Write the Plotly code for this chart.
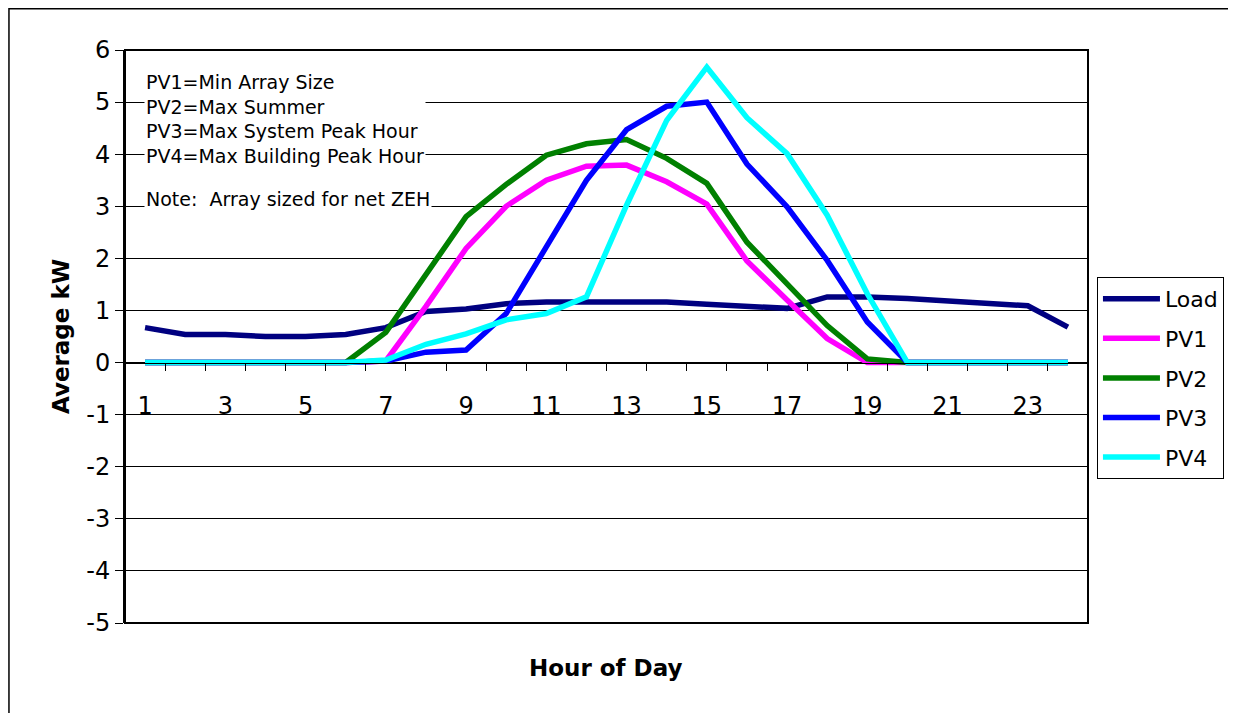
import plotly.graph_objects as go

hours = list(range(1, 25))

load = [0.67, 0.54, 0.54, 0.50, 0.50, 0.54, 0.67, 0.98, 1.03, 1.13, 1.16, 1.16,
        1.16, 1.16, 1.12, 1.08, 1.04, 1.26, 1.26, 1.23, 1.18, 1.14, 1.09, 0.68]
pv1 = [0, 0, 0, 0, 0, 0, 0.03, 1.08, 2.19, 3.0, 3.5, 3.77,
       3.79, 3.47, 3.04, 1.95, 1.2, 0.46, 0.0, 0, 0, 0, 0, 0]
pv2 = [0, 0, 0, 0, 0, 0, 0.58, 1.71, 2.8, 3.42, 3.98, 4.2,
       4.28, 3.92, 3.44, 2.31, 1.51, 0.71, 0.07, 0.0, 0, 0, 0, 0]
pv3 = [0, 0, 0, 0, 0, 0, 0.03, 0.2, 0.24, 0.94, 2.22, 3.5,
       4.47, 4.92, 5.0, 3.81, 2.99, 1.96, 0.78, 0.0, 0, 0, 0, 0]
pv4 = [0, 0, 0, 0, 0, 0, 0.05, 0.35, 0.55, 0.82, 0.94, 1.26,
       3.02, 4.65, 5.67, 4.7, 4.01, 2.83, 1.32, 0.0, 0, 0, 0, 0]

y_ticks = list(range(-5, 7))
y_ticktext = [str(v) for v in y_ticks]   # plain hyphen minus like the original
x_ticks = list(range(1, 25, 2))

series = [
    ("Load", load, "#000080"),
    ("PV1", pv1, "#FF00FF"),
    ("PV2", pv2, "#008000"),
    ("PV3", pv3, "#0000FF"),
    ("PV4", pv4, "#00FFFF"),
]

FONT = "DejaVu Sans, Arial, sans-serif"

fig = go.Figure()
for name, vals, color in series:
    fig.add_trace(go.Scatter(x=hours, y=vals, mode="lines", name=name, legendgroup=name,
                             line=dict(color=color, width=5.5)))

# page body has an 8px margin, so the figure is a bit smaller than the window
fig.update_layout(
    width=1228, height=705,
    margin=dict(l=117, r=139, t=42, b=90),
    paper_bgcolor="white", plot_bgcolor="white",
    font=dict(family=FONT, color="black", size=22),
    showlegend=True,
    legend=dict(x=1.0093, xanchor="left", y=0.604, yanchor="top",
                bordercolor="black", borderwidth=1, bgcolor="white",
                font=dict(size=22), tracegroupgap=8, itemwidth=57,
                entrywidth=70, entrywidthmode="pixels"),
    xaxis=dict(
        range=[0.5, 24.5], tickvals=x_ticks,
        ticks="", showgrid=False, zeroline=False,
        showline=True, linecolor="black", linewidth=1,
        anchor="free", position=5 / 11,
        ticklabelstandoff=22, tickfont=dict(size=24),
        minor=dict(tickvals=[h + 0.5 for h in range(0, 25)], ticks="outside",
                   ticklen=7, tickcolor="black", showgrid=False),
    ),
    yaxis=dict(
        range=[-5, 6], tickvals=y_ticks, ticktext=y_ticktext,
        ticks="outside", ticklen=8, tickcolor="black",
        showgrid=True, gridcolor="black", gridwidth=1, zeroline=False,
        showline=True, linecolor="black", linewidth=2,
        tickfont=dict(size=24),
        title=dict(text="<b>Average kW</b>", font=dict(size=23), standoff=10),
    ),
)

# plot frame and outer chart border
fig.add_shape(type="rect", xref="paper", yref="paper", x0=0, x1=1, y0=0, y1=1,
              line=dict(color="black", width=2))
fig.add_shape(type="rect", xref="paper", yref="paper", x0=-0.1205, x1=1.1505,
              y0=-0.2, y1=1.072, line=dict(color="black", width=1.5))

fig.add_annotation(xref="paper", yref="paper", x=0.02, y=0.967, xanchor="left", yanchor="top",
                   align="left", showarrow=False, bgcolor="white", borderpad=1,
                   text="PV1=Min Array Size<br>PV2=Max Summer<br>PV3=Max System Peak Hour"
                        "<br>PV4=Max Building Peak Hour",
                   font=dict(size=19))
fig.add_annotation(xref="paper", yref="paper", x=0.02, y=0.74, xanchor="left", yanchor="middle",
                   align="left", showarrow=False, bgcolor="white", borderpad=1,
                   text="Note:  Array sized for net ZEH", font=dict(size=19))
fig.add_annotation(xref="paper", yref="paper", x=0.499, y=-0.105, showarrow=False,
                   text="<b>Hour of Day</b>", font=dict(size=23))

fig.write_html("out.html")
